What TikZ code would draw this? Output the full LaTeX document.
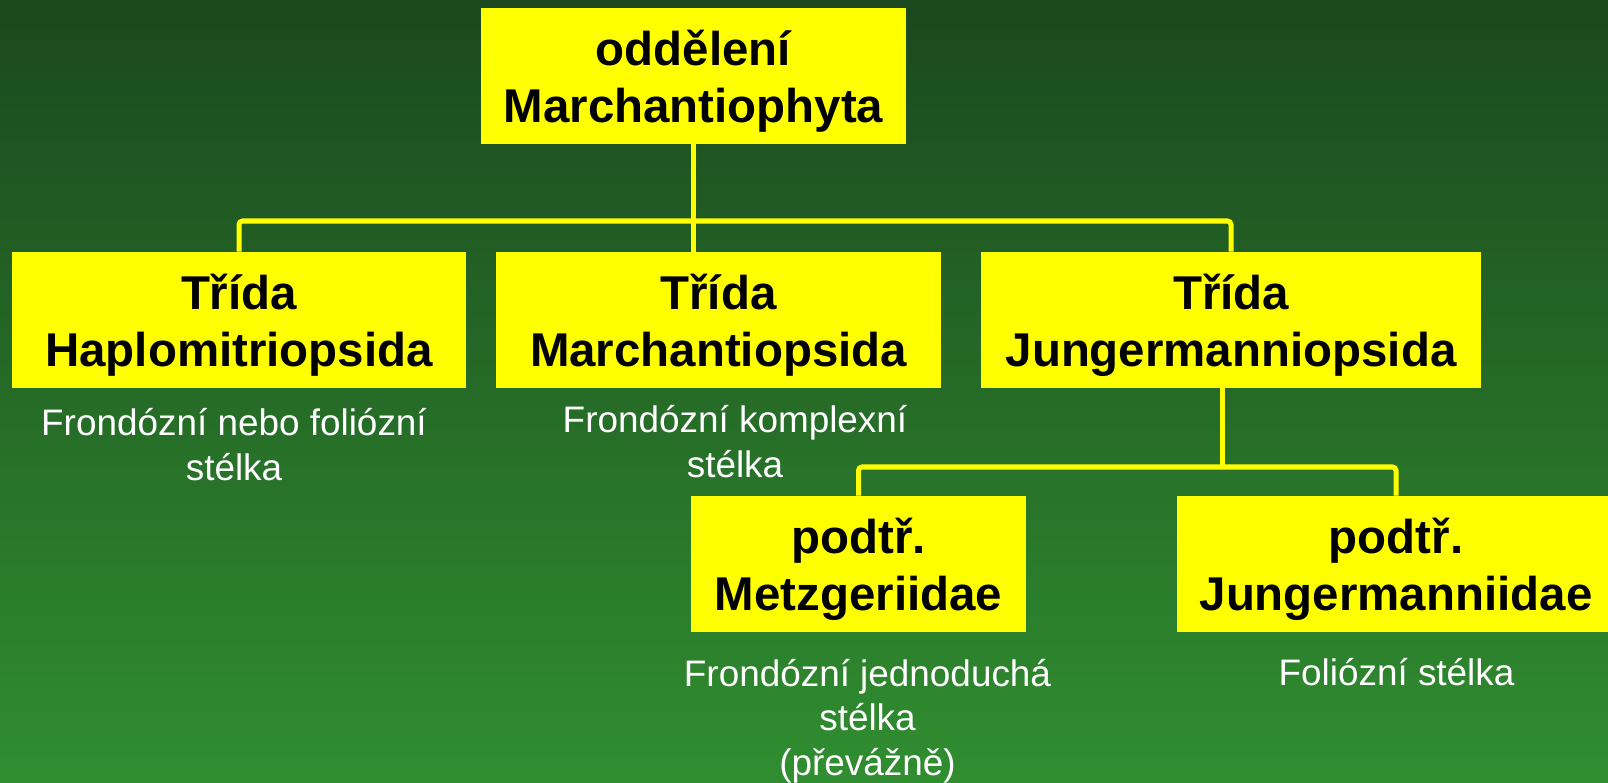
\documentclass[tikz,border=0pt]{standalone}
\usepackage{fontspec}
\setmainfont{Liberation Sans}
\definecolor{bgtop}{RGB}{27,72,30}
\definecolor{bgbottom}{RGB}{48,142,48}
\definecolor{boxfill}{RGB}{255,255,0}

\begin{document}
\begin{tikzpicture}[x=0.02cm, y=-0.02cm,
  box/.style={fill=boxfill, inner sep=0pt, minimum height=2.720cm, align=center,
    text depth=0pt, font=\fontsize{27}{32.5}\selectfont\bfseries},
  note/.style={text=white, inner sep=0pt, align=center, anchor=base,
    font=\fontsize{21}{25.3}\selectfont},
  link/.style={draw=boxfill, line width=2.85pt, rounded corners=2pt}]
\useasboundingbox (0,0) rectangle (1608,783);
\fill[top color=bgtop, bottom color=bgbottom] (0,0) rectangle (1608,783);
\coordinate (bar) at (693,221);
\coordinate (split) at (1222,467);
\node[box, minimum width=8.500cm] (phylum) at (693.5,76) {oddělení\\Marchantiophyta};
\node[box, minimum width=9.080cm] (haplo) at (239,320) {Třída\\Haplomitriopsida};
\node[box, minimum width=8.900cm] (march) at (718.5,320) {Třída\\Marchantiopsida};
\node[box, minimum width=10.000cm] (junger) at (1231,320) {Třída\\Jungermanniopsida};
\node[box, minimum width=6.700cm] (metz) at (858.5,564) {podtř.\\Metzgeriidae};
\node[box, minimum width=8.760cm] (jungsub) at (1396,564) {podtř.\\Jungermanniidae};
\node[note] (haplonote) at (234,480) {Frondózní nebo foliózní\\stélka};
\node[note] (marchnote) at (735,477) {Frondózní komplexní\\stélka};
\node[note] (metznote) at (867.5,775) {Frondózní jednoduchá\\stélka\\(převážně)};
\node[note] (jungsubnote) at (1396.5,685) {Foliózní stélka};
\draw[link] (bar |- phylum.south) -- (bar |- march.north);
\draw[link] (haplo.north) -- (haplo.north |- bar) -- (junger.north |- bar) -- (junger.north);
\draw[link] (split |- junger.south) -- (split);
\draw[link] (metz.north) -- (metz.north |- split) -- (jungsub.north |- split) -- (jungsub.north);
\end{tikzpicture}
\end{document}
